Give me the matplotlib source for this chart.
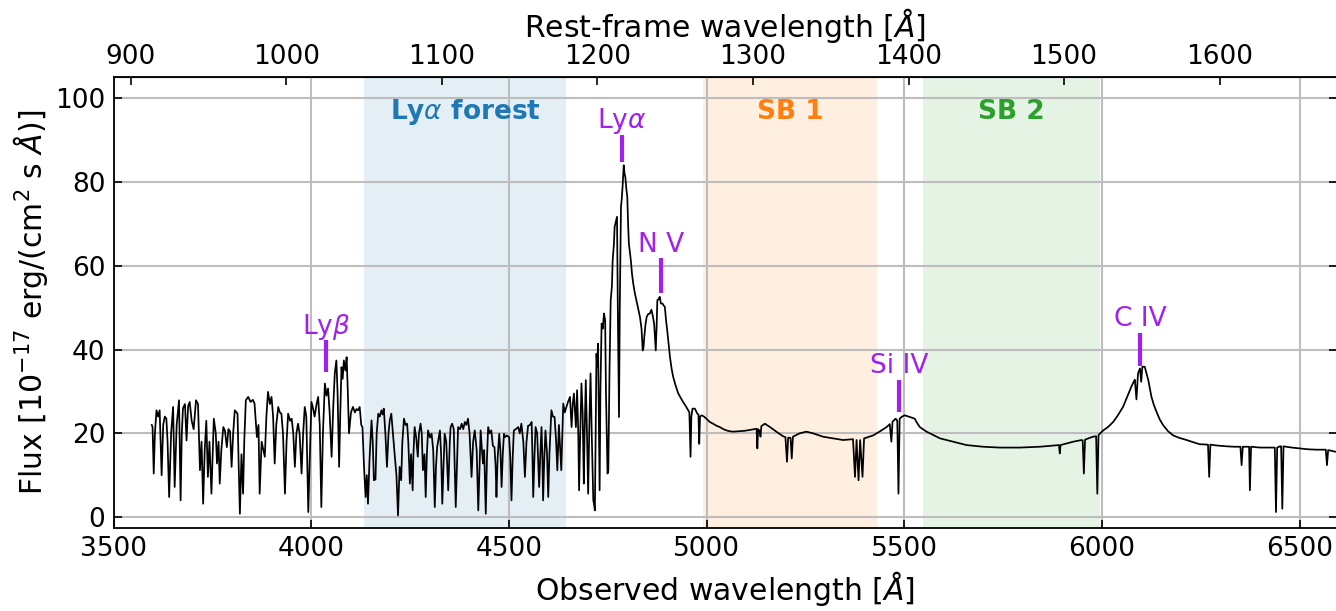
import numpy as np
import matplotlib
matplotlib.use("Agg")
import matplotlib.pyplot as plt

# ---------------- data ----------------
z_qso = 2.936

# Spectrum (observed wavelength [A], flux [1e-17 erg/cm2/s/A])
seg_lyb = [
    (3596, 22.0), (3598, 21.5), (3601, 10.4), (3604, 20.0), (3608, 25.5), (3612, 24.0), (3616, 25.5),
    (3621, 10.0), (3625, 22.0), (3629, 24.0), (3633, 23.5), (3636, 18.0), (3640, 4.8), (3645, 20.0),
    (3650, 26.3), (3654, 7.2), (3659, 22.0), (3665, 27.9), (3669, 4.0), (3672, 20.0), (3675, 26.0),
    (3680, 27.0), (3684, 18.3), (3688, 26.5), (3692, 27.5), (3697, 23.0), (3702, 21.0), (3708, 27.9),
    (3713, 27.0), (3718, 11.2), (3722, 18.0), (3726, 3.2), (3730, 16.0), (3734, 23.0), (3738, 9.6),
    (3742, 18.0), (3747, 5.6), (3753, 23.5), (3758, 20.0), (3761, 12.8), (3765, 18.0), (3768, 8.0),
    (3772, 16.0), (3777, 21.5), (3781, 20.7), (3786, 16.7), (3790, 21.0), (3794, 20.5), (3798, 12.0),
    (3802, 20.0), (3806, 25.5), (3813, 24.7), (3816, 12.0), (3819, 0.8), (3823, 15.0), (3827, 5.6),
    (3830, 18.0), (3834, 27.9), (3840, 28.7), (3846, 27.5), (3852, 28.0), (3856, 27.1), (3862, 19.1),
    (3866, 22.0), (3869, 5.6), (3874, 18.0), (3882, 14.4), (3886, 24.0), (3890, 29.9), (3895, 27.0),
    (3899, 28.7), (3903, 24.0), (3907, 12.8), (3911, 22.0), (3916, 26.3), (3920, 25.0), (3924, 24.7),
    (3928, 20.0), (3933, 5.6), (3937, 18.0), (3941, 24.7), (3946, 23.0), (3950, 23.5), (3954, 20.0),
    (3958, 12.0), (3962, 20.0), (3966, 22.3), (3970, 20.0), (3975, 10.4), (3979, 20.0), (3983, 26.3),
    (3987, 24.0), (3992, 1.2), (3996, 15.0), (4000, 27.5), (4004, 26.0), (4008, 24.0), (4013, 27.0),
    (4017, 28.7), (4021, 22.0), (4025, 2.4), (4029, 20.0), (4034, 31.9), (4038, 29.0), (4042, 30.7),
    (4046, 25.0), (4051, 14.4), (4055, 26.0), (4059, 34.3), (4063, 37.4), (4066, 30.0), (4070, 12.0),
    (4073, 25.0), (4076, 35.8), (4079, 33.0), (4082, 37.4), (4086, 35.0), (4089, 38.2), (4092, 30.0),
    (4095, 20.0), (4100, 25.0), (4105, 26.3), (4110, 25.0), (4114, 25.8), (4118, 25.5), (4122, 26.3),
    (4126, 22.0), (4129, 21.5), (4133, 12.0), (4137, 4.8), (4140, 10.0), (4143, 3.2), (4147, 14.0),
]
seg_forest = [
    (4152, 23.1), (4155, 18.0), (4158, 8.8), (4162, 9.0), (4165, 20.0), (4169, 24.7), (4173, 24.0),
    (4177, 25.5), (4180, 24.5), (4183, 25.9), (4187, 20.0), (4191, 12.0), (4195, 20.0), (4198, 23.0),
    (4202, 24.7), (4206, 20.0), (4211, 14.4), (4215, 10.0), (4219, 0.4), (4223, 12.0), (4227, 8.8),
    (4230, 18.0), (4234, 23.5), (4238, 22.0), (4242, 22.3), (4245, 18.0), (4249, 8.0), (4252, 15.0),
    (4256, 6.4), (4258, 15.0), (4261, 21.5), (4265, 19.0), (4269, 14.4), (4272, 20.0), (4276, 22.3),
    (4279, 20.0), (4282, 11.2), (4286, 15.0), (4289, 4.8), (4292, 15.0), (4295, 20.7), (4300, 19.0),
    (4304, 19.9), (4308, 16.0), (4312, 2.4), (4315, 12.0), (4318, 16.7), (4322, 19.0), (4325, 20.7),
    (4328, 15.0), (4331, 3.2), (4334, 12.0), (4337, 19.9), (4341, 18.0), (4346, 6.4), (4350, 18.0),
    (4352, 21.5), (4356, 22.3), (4360, 21.0), (4365, 2.4), (4369, 15.0), (4371, 21.5), (4376, 21.0),
    (4380, 22.3), (4384, 21.0), (4388, 22.7), (4392, 22.0), (4396, 23.5), (4400, 20.0), (4405, 9.6),
    (4409, 18.0), (4413, 20.7), (4418, 16.0), (4422, 1.6), (4426, 14.0), (4428, 20.7), (4432, 15.0),
    (4434, 12.8), (4437, 16.0), (4441, 0.8), (4444, 14.0), (4447, 21.5), (4451, 20.0), (4455, 20.7),
    (4459, 17.0), (4463, 16.7), (4466, 12.0), (4468, 4.8), (4471, 14.0), (4475, 19.9), (4478, 16.0),
    (4481, 7.2), (4484, 15.0), (4487, 19.9), (4490, 19.1), (4494, 19.5), (4500, 19.1), (4503, 14.0),
    (4506, 4.0), (4509, 14.0), (4512, 20.7), (4517, 21.0), (4523, 21.5), (4527, 20.0), (4531, 22.3),
    (4536, 18.0), (4540, 9.6), (4544, 18.0), (4548, 21.8), (4553, 22.0), (4557, 22.7), (4559, 15.0),
    (4561, 4.8), (4564, 14.0), (4567, 21.5), (4571, 20.0), (4576, 7.2), (4579, 15.0), (4582, 21.5),
    (4584, 15.0), (4586, 4.0), (4589, 14.0), (4592, 20.7), (4596, 15.0), (4599, 4.8), (4602, 15.0),
    (4607, 25.5), (4611, 24.0), (4615, 23.9), (4619, 18.0), (4622, 11.2),
]
seg_lya = [
    (4626, 22.0), (4628, 18.3), (4632, 11.2), (4637, 27.1), (4641, 25.0), (4645, 26.3), (4649, 27.5),
    (4654, 28.7), (4658, 21.5), (4661, 27.0), (4664, 29.5), (4669, 21.5), (4672, 30.3), (4675, 20.0),
    (4677, 6.4), (4680, 20.0), (4683, 31.9), (4686, 25.0), (4689, 8.0), (4691, 20.0), (4694, 32.7),
    (4697, 20.0), (4700, 5.6), (4703, 22.0), (4706, 34.3), (4709, 20.0), (4713, 4.0), (4715, 3.0),
    (4717, 1.6), (4719, 20.0), (4721, 39.0), (4723, 36.0), (4725, 41.4), (4727, 25.0), (4729, 6.4),
    (4731, 30.0), (4734, 46.2), (4737, 45.0), (4740, 48.6), (4743, 47.0), (4745, 30.0), (4749, 10.4),
    (4751, 11.2), (4754, 35.0), (4757, 51.8), (4760, 55.0), (4762, 61.3), (4765, 65.0), (4767, 69.3),
    (4770, 70.5), (4773, 71.7), (4775, 50.0), (4778, 23.9), (4780, 50.0), (4783, 74.1), (4785, 76.0),
    (4787, 78.8), (4790, 84.0), (4792, 82.0), (4794, 81.2), (4797, 78.0), (4799, 76.5), (4801, 70.0),
    (4803, 65.3), (4806, 63.0), (4808, 61.3), (4811, 58.0), (4814, 55.8), (4818, 53.5), (4822, 51.8),
    (4826, 50.0), (4831, 47.8), (4835, 45.0), (4838, 39.8), (4840, 40.5), (4842, 43.0), (4845, 46.0),
    (4848, 47.8), (4852, 48.5), (4856, 48.6), (4860, 49.5), (4864, 47.8), (4867, 46.0), (4871, 39.8),
    (4873, 45.0), (4875, 51.8), (4878, 52.0), (4881, 52.6), (4884, 51.0), (4888, 51.0), (4891, 50.5),
    (4894, 50.2), (4897, 47.0), (4900, 44.6), (4904, 41.0), (4907, 38.2), (4911, 35.5), (4915, 33.5),
    (4921, 31.5), (4928, 29.5), (4934, 28.5), (4940, 27.5), (4947, 26.5), (4953, 25.5), (4956, 25.0),
    (4959, 14.4), (4961, 24.0), (4964, 25.9), (4970, 25.9), (4976, 24.7), (4979, 24.5), (4981, 17.5),
    (4983, 24.0), (4987, 24.3), (4993, 24.0), (4999, 23.5), (5008, 22.7), (5016, 22.3), (5025, 21.8),
    (5033, 21.5), (5042, 21.0), (5050, 20.7), (5058, 20.5), (5067, 20.4),
]
seg_siiv = [
    (5080, 20.5), (5095, 20.6), (5109, 20.8), (5120, 21.0), (5126, 21.1), (5128, 16.4), (5130, 21.0),
    (5134, 20.5), (5136, 19.2), (5138, 21.7), (5147, 22.3), (5160, 21.5), (5176, 20.4), (5193, 19.3),
    (5199, 19.1), (5203, 13.2), (5206, 19.0), (5212, 18.9), (5215, 14.0), (5218, 19.2), (5235, 20.0),
    (5252, 20.4), (5269, 20.0), (5294, 19.2), (5320, 18.8), (5345, 18.4), (5370, 18.6), (5375, 9.6),
    (5379, 18.4), (5384, 8.8), (5388, 18.4), (5394, 9.6), (5398, 18.8), (5421, 19.5), (5442, 20.7),
    (5455, 21.5), (5463, 22.2), (5467, 18.0), (5470, 22.8), (5478, 23.5), (5482, 23.0), (5485, 5.6),
    (5488, 23.5), (5494, 24.0), (5501, 24.3), (5514, 23.9), (5526, 23.5), (5532, 22.5), (5539, 21.5),
    (5556, 20.4), (5573, 19.6), (5590, 18.8), (5623, 18.0), (5657, 17.2), (5699, 16.8), (5741, 16.6),
]
seg_civ = [
    (5792, 16.6), (5843, 16.8), (5891, 17.2), (5893, 15.2), (5895, 17.2), (5927, 18.0), (5948, 18.4),
    (5951, 18.3), (5954, 10.4), (5957, 18.5), (5977, 19.2), (5985, 19.3), (5988, 5.6), (5991, 19.6),
    (6003, 20.7), (6015, 21.5), (6028, 22.7), (6040, 24.3), (6053, 26.3), (6064, 28.8), (6074, 31.1),
    (6080, 32.3), (6083, 32.8), (6087, 28.1), (6091, 34.3), (6096, 35.5), (6099, 32.3), (6102, 35.9),
    (6108, 35.9), (6112, 34.5), (6117, 32.7), (6125, 28.7), (6131, 26.8), (6138, 25.1), (6146, 23.3),
    (6155, 21.9), (6167, 20.5), (6180, 19.5), (6196, 18.9), (6214, 18.4), (6230, 17.9), (6247, 17.4),
    (6268, 17.3), (6271, 9.6), (6274, 17.3), (6290, 17.1), (6315, 16.9), (6335, 16.8), (6350, 16.8),
    (6353, 12.4), (6356, 16.8), (6372, 16.8), (6374, 6.4), (6377, 16.8), (6400, 16.6), (6420, 16.6),
    (6437, 16.6), (6440, 1.2), (6443, 16.6), (6450, 16.9), (6453, 16.9), (6456, 2.0), (6459, 16.9),
    (6480, 16.6), (6500, 16.4), (6520, 16.2), (6542, 16.1), (6566, 16.1), (6569, 12.4), (6572, 16.0),
    (6591, 15.6),
]

# Shaded rest-frame regions
band_names = [r"Ly$\alpha$ forest", "SB 1", "SB 2"]
band_rest = [(1050, 1180), (1268, 1380), (1409, 1523)]
band_colors = ["tab:blue", "tab:orange", "tab:green"]

# Emission line markers: label, rest wavelength, marker bottom, marker top
line_names = [r"Ly$\beta$", r"Ly$\alpha$", "N V", "Si IV", "C IV"]
line_rest = [1025.7, 1215.7, 1240.8, 1394.0, 1549.0]
line_lo = [34.6, 84.7, 53.5, 25.0, 36.0]
line_hi = [42.2, 91.2, 61.8, 32.7, 44.0]

x_ticks = [3500, 4000, 4500, 5000, 5500, 6000, 6500]
rest_ticks = [900, 1000, 1100, 1200, 1300, 1400, 1500, 1600]
y_ticks = [0, 20, 40, 60, 80, 100]

# ---------------- plot ----------------
all_pts = seg_lyb + seg_forest + seg_lya + seg_siiv + seg_civ
wave = np.array([p[0] for p in all_pts], dtype=float)
flux = np.array([p[1] for p in all_pts], dtype=float)

W, H = 1336, 611
fig = plt.figure(figsize=(W / 100, H / 100), dpi=100)
ax = fig.add_axes([113.8 / W, 1 - 528 / H, (1337 - 113.8) / W, (528 - 77.3) / H])

purple = "#a020f0"
tick_fs = 19
label_fs = 21.5
ann_fs = 19

for (r0, r1), c, name in zip(band_rest, band_colors, band_names):
    o0, o1 = r0 * (1 + z_qso), r1 * (1 + z_qso)
    ax.axvspan(o0, o1, color=c, alpha=0.12, lw=0, zorder=0)
    ax.text((o0 + o1) / 2, 95.0, name, color=c, fontsize=ann_fs, fontweight="bold",
            ha="center", va="baseline", zorder=5)

ax.plot(wave, flux, color="black", lw=1.25, zorder=3)

for name, rw, lo, hi in zip(line_names, line_rest, line_lo, line_hi):
    ow = rw * (1 + z_qso)
    ax.plot([ow, ow], [lo, hi], color=purple, lw=3, solid_capstyle="butt", zorder=4)
    ax.text(ow, hi + 1.6, name, color=purple, fontsize=ann_fs, ha="center", va="baseline", zorder=5)

ax.set_xlim(3500, 3500 + (1337 - 113.8) / 0.3953)
ax.set_ylim(-2.6, 105)
ax.set_xticks(x_ticks)
ax.set_yticks(y_ticks)
ax.grid(True, color="#bdbdbd", lw=1.5, zorder=1)
ax.set_axisbelow(True)
ax.tick_params(axis="both", direction="in", length=6, width=1.2, labelsize=tick_fs, pad=6,
               right=True, top=False)
for sp in ax.spines.values():
    sp.set_linewidth(1.3)

ax.set_xlabel(r"Observed wavelength [$\AA$]", fontsize=label_fs, labelpad=5)
ax.set_ylabel(r"Flux [$10^{-17}$ erg/(cm$^2$ s $\AA$)]", fontsize=label_fs, labelpad=4)

secax = ax.secondary_xaxis("top", functions=(lambda x: x / (1 + z_qso), lambda x: x * (1 + z_qso)))
secax.set_xticks(rest_ticks)
secax.tick_params(direction="in", length=6, width=1.2, labelsize=tick_fs, pad=5)
secax.set_xlabel(r"Rest-frame wavelength [$\AA$]", fontsize=label_fs, labelpad=5)

fig.savefig("out.png", dpi=100)
